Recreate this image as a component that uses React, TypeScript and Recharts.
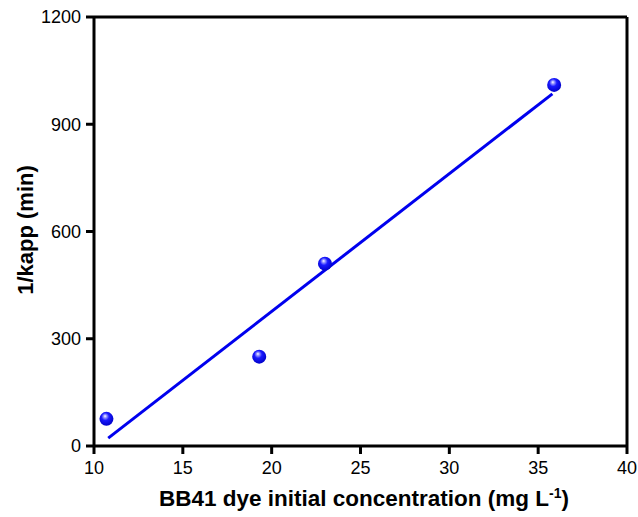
import React from "react";
import {
  ScatterChart,
  Scatter,
  XAxis,
  YAxis,
  ReferenceLine,
} from "recharts";

// measured points
const concentration = [10.7, 19.3, 23.0, 35.9];
const invKapp = [76, 250, 510, 1010];

// linear fit end points
const fitX = [10.8, 35.8];
const fitY = [22, 985];

const xTicks = [10, 15, 20, 25, 30, 35, 40];
const yTicks = [0, 300, 600, 900, 1200];

const points = concentration.map((x, i) => ({ x, y: invKapp[i] }));
const fitLine = fitX.map((x, i) => ({ x, y: fitY[i] }));

const FONT = "'Liberation Sans', Arial, sans-serif";

// glossy blue ball marker
const Ball = (props: any) => {
  const { cx, cy } = props;
  if (cx == null || cy == null) return <g />;
  return <circle cx={cx} cy={cy} r={7} fill="url(#ballGrad)" />;
};

export default function App() {
  return (
    <div style={{ position: "absolute", left: 0, top: 0, background: "#fff" }}>
      <ScatterChart
        width={638}
        height={517}
        margin={{ top: 17, right: 11, bottom: 0, left: 0 }}
      >
        <defs>
          <radialGradient id="ballGrad" cx="0.45" cy="0.4" r="0.6" fx="0.4" fy="0.3">
            <stop offset="0%" stopColor="#ffffff" />
            <stop offset="18%" stopColor="#9a9aff" />
            <stop offset="45%" stopColor="#1a1aff" />
            <stop offset="100%" stopColor="#0000c8" />
          </radialGradient>
        </defs>
        <XAxis
          type="number"
          dataKey="x"
          domain={[10, 40]}
          ticks={xTicks}
          height={71}
          allowDataOverflow
          stroke="#000"
          strokeWidth={3}
          tickSize={8}
          tickMargin={7}
          tickLine={{ stroke: "#000", strokeWidth: 3 }}
          tick={{ fill: "#000", fontSize: 18, fontFamily: FONT }}
        />
        <YAxis
          type="number"
          dataKey="y"
          domain={[0, 1200]}
          ticks={yTicks}
          width={94}
          allowDataOverflow
          stroke="#000"
          strokeWidth={3}
          tickSize={8}
          tickMargin={5}
          tickLine={{ stroke: "#000", strokeWidth: 3 }}
          tick={{ fill: "#000", fontSize: 18, fontFamily: FONT }}
        />
        <ReferenceLine y={1200} stroke="#000" strokeWidth={3} />
        <ReferenceLine x={40} stroke="#000" strokeWidth={3} />
        <Scatter
          data={fitLine}
          line={{ stroke: "#0000ee", strokeWidth: 3 }}
          shape={() => <g />}
          isAnimationActive={false}
        />
        <Scatter data={points} shape={Ball} isAnimationActive={false} />
        <text
          x={25}
          y={230}
          transform="rotate(-90 25 230)"
          textAnchor="middle"
          dominantBaseline="central"
          fontFamily={FONT}
          fontWeight="bold"
          fontSize={22}
          fill="#000"
        >
          1/kapp (min)
        </text>
        <text
          x={364}
          y={506}
          textAnchor="middle"
          fontFamily={FONT}
          fontWeight="bold"
          fontSize={22.5}
          fill="#000"
        >
          BB41 dye initial concentration (mg L
          <tspan dy={-8} fontSize={14}>-1</tspan>
          <tspan dy={8}>)</tspan>
        </text>
      </ScatterChart>
    </div>
  );
}
